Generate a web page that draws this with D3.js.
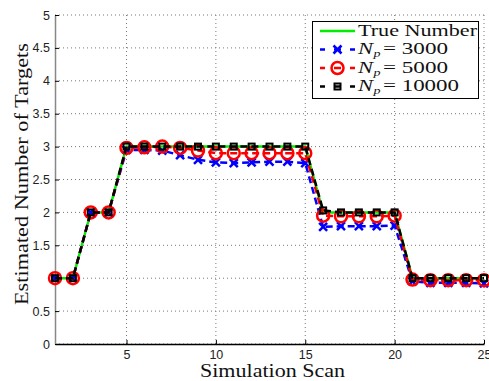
<!DOCTYPE html>
<html>
<head>
<meta charset="utf-8">
<script src="https://cdn.jsdelivr.net/npm/d3@7"></script>
<style>
  body { margin: 0; background: #fff; }
  svg { display: block; }
</style>
</head>
<body>
<svg id="chart" width="489" height="381"></svg>
<script>
// data
const scans = d3.range(1, 26);
const trueNumber = [1,1,2,2,3,3,3,3,3,3,3,3,3,3,3,2,2,2,2,2,1,1,1,1,1];
const np3000 = [1,1,2,2,2.95,2.95,2.94,2.87,2.8,2.76,2.75,2.76,2.77,2.77,2.75,1.78,1.79,1.79,1.79,1.8,0.95,0.93,0.93,0.93,0.92];
const np5000 = [1,1,2,2,2.98,2.99,3.0,2.98,2.94,2.9,2.9,2.9,2.9,2.9,2.9,1.95,1.94,1.94,1.94,1.95,0.98,0.97,0.97,0.97,0.97];
const np10000 = [1,1,2,2,3,3,3,3,3,3,3,3,3,3,3,2.03,2.0,2.0,2.0,2.0,1.0,1.0,1.0,1.0,1.0];
const xTicks = [5, 10, 15, 20, 25];
const yTicks = [0, 0.5, 1, 1.5, 2, 2.5, 3, 3.5, 4, 4.5, 5];
const yTickLabels = ["0", "0.5", "", "1.5", "2", "2.5", "3", "3.5", "4", "4.5", "5"];
const legendLabels = ["True Number", "3000", "5000", "10000"];

const W = 489, H = 381;
const Margin = [15, 37, 5, 55]; // top bottom right left
const SVG = d3.select("#chart");

const X = d3.scaleLinear().domain([1, 25]).range([Margin[3], W - Margin[2]]);
const Y = d3.scaleLinear().domain([0, 5]).range([H - Margin[1], Margin[0]]);

const tickFont = "'Liberation Sans', Arial, sans-serif";
const serif = "'Liberation Serif', 'Times New Roman', serif";

// grid
const grid = SVG.append("g").attr("stroke", "#777").attr("stroke-width", 1).attr("stroke-dasharray", "1,3");
grid.selectAll(".gx").data(xTicks).join("line")
  .attr("x1", d => X(d)).attr("x2", d => X(d))
  .attr("y1", Y(0)).attr("y2", Y(5));
grid.selectAll(".gy").data(yTicks).join("line")
  .attr("x1", X(1)).attr("x2", X(25))
  .attr("y1", d => Y(d)).attr("y2", d => Y(d));

// axes
const xAxis = SVG.append("g")
  .attr("transform", `translate(0,${Y(0)})`)
  .call(d3.axisBottom(X).tickValues(xTicks).tickSizeInner(-4).tickSizeOuter(0).tickPadding(6));
xAxis.select(".domain").attr("stroke", "#000").attr("stroke-width", 1.5);
xAxis.selectAll("text").style("font-family", tickFont).style("font-size", "12.5px").attr("fill", "#222");

const yAxis = SVG.append("g")
  .attr("transform", `translate(${X(1)},0)`)
  .call(d3.axisLeft(Y).tickValues(yTicks).tickFormat((d, i) => yTickLabels[i]).tickSizeInner(-4).tickSizeOuter(0).tickPadding(5));
yAxis.select(".domain").attr("stroke", "#888").attr("stroke-width", 1.5);
yAxis.selectAll("text").style("font-family", tickFont).style("font-size", "12.5px").attr("fill", "#222");

// series
const line = d3.line().x((d, i) => X(scans[i])).y(d => Y(d));
const series = [
  {values: trueNumber, color: "#00ee00", dash: null, marker: null},
  {values: np3000, color: "#0000ff", dash: "7,4", marker: "x"},
  {values: np5000, color: "#ff0000", dash: "7,4", marker: "o"},
  {values: np10000, color: "#000000", dash: "7,4", marker: "s"}
];

function drawMarker(g, type, color) {
  if (type === "x") {
    g.append("path").attr("d", "M-4,-4L4,4M-4,4L4,-4")
      .attr("stroke", color).attr("stroke-width", 2.5).attr("fill", "none");
  } else if (type === "o") {
    g.append("circle").attr("r", 6).attr("stroke", color).attr("stroke-width", 2.5).attr("fill", "none");
  } else if (type === "s") {
    g.append("rect").attr("x", -3).attr("y", -3).attr("width", 6).attr("height", 6)
      .attr("stroke", color).attr("stroke-width", 2).attr("fill", "none");
  }
}

series.forEach(s => {
  SVG.append("path")
    .attr("d", line(s.values))
    .attr("fill", "none")
    .attr("stroke", s.color)
    .attr("stroke-width", 2.5)
    .attr("stroke-dasharray", s.dash);
  if (s.marker) {
    SVG.append("g").selectAll("g").data(s.values).join("g")
      .attr("transform", (d, i) => `translate(${X(scans[i])},${Y(d)})`)
      .each(function() { drawMarker(d3.select(this), s.marker, s.color); });
  }
});

// serif text, stretched sideways like the reference
function serifText(g, x, y, str, len, size, italic) {
  return g.append("text").attr("x", x).attr("y", y)
    .attr("textLength", len).attr("lengthAdjust", "spacingAndGlyphs")
    .style("font-family", serif).style("font-size", size + "px")
    .style("font-style", italic ? "italic" : "normal")
    .attr("fill", "#111").text(str);
}

// axis labels
serifText(SVG, 200, 377, "Simulation Scan", 145, 18);
serifText(SVG.append("g").attr("transform", "translate(28,305) rotate(-90)"), 0, 0, "Estimated Number of Targets", 262, 18);

// legend
const lg = SVG.append("g");
lg.append("rect").attr("x", 312.5).attr("y", 21.5).attr("width", 166).attr("height", 77)
  .attr("fill", "#fff").attr("stroke", "#000").attr("stroke-width", 1);
const rowY = [31, 49.5, 68, 86.5];
const numWidths = [0, 65, 65, 76];
series.forEach((s, i) => {
  const cy = rowY[i];
  lg.append("line").attr("x1", 320).attr("x2", 355).attr("y1", cy).attr("y2", cy)
    .attr("stroke", s.color).attr("stroke-width", 2.5).attr("stroke-dasharray", s.dash ? "5,9,7,9,5" : null);
  if (s.marker) drawMarker(lg.append("g").attr("transform", `translate(337.5,${cy})`), s.marker, s.color);
  if (i === 0) {
    serifText(lg, 358, cy + 5, legendLabels[i], 119, 16.5);
  } else {
    serifText(lg, 358, cy + 4.5, "N", 15, 16.5, true);
    serifText(lg, 373.5, cy + 7.5, "p", 7, 11, true);
    serifText(lg, 383, cy + 4.5, "= " + legendLabels[i], numWidths[i], 16.5);
  }
});
</script>
</body>
</html>
